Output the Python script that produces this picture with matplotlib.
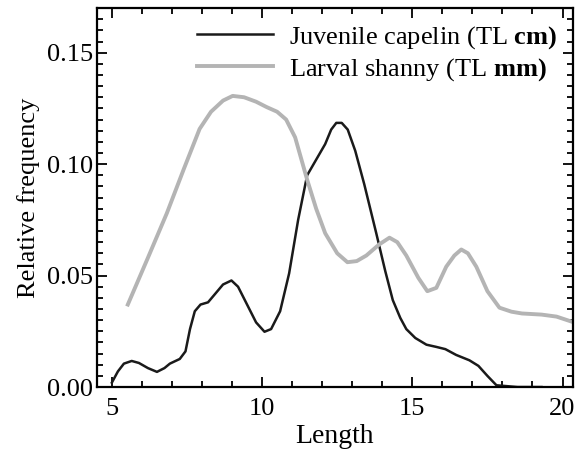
import numpy as np
import matplotlib
matplotlib.use("Agg")
import matplotlib.pyplot as plt
from matplotlib.ticker import MultipleLocator

plt.rcParams['font.family'] = ['Liberation Serif', 'DejaVu Serif']
plt.rcParams['mathtext.fontset'] = 'custom'
plt.rcParams['mathtext.rm'] = 'Liberation Serif'
plt.rcParams['mathtext.bf'] = 'Liberation Serif:bold'

# juvenile capelin (black line)
capelin_x = [5.0, 5.2, 5.4, 5.66, 5.9, 6.2, 6.5, 6.75, 6.93, 7.26, 7.45, 7.6,
             7.76, 7.95, 8.2, 8.45, 8.7, 8.98, 9.2, 9.5, 9.8, 10.08, 10.3,
             10.6, 10.9, 11.2, 11.5, 11.8, 12.1, 12.3, 12.47, 12.65, 12.85,
             13.1, 13.4, 13.8, 14.1, 14.35, 14.6, 14.8, 15.1, 15.47, 15.8,
             16.1, 16.46, 16.9, 17.2, 17.5, 17.8, 18.5, 19.3]
capelin_y = [0.002, 0.007, 0.0105, 0.0117, 0.0108, 0.0085, 0.0068, 0.0085,
             0.0105, 0.0126, 0.016, 0.026, 0.034, 0.037, 0.038, 0.042, 0.046,
             0.0478, 0.045, 0.037, 0.029, 0.0248, 0.026, 0.034, 0.051, 0.075,
             0.095, 0.102, 0.109, 0.1155, 0.1185, 0.1185, 0.1155, 0.106, 0.091,
             0.069, 0.052, 0.039, 0.031, 0.026, 0.022, 0.019, 0.018, 0.017,
             0.0144, 0.012, 0.0095, 0.005, 0.0008, 0.0, 0.0]

# larval shanny (gray line)
shanny_x = [5.53, 6.2, 6.83, 7.4, 7.92, 8.3, 8.7, 9.02, 9.4, 9.8, 10.15, 10.5,
            10.8, 11.1, 11.5, 11.8, 12.1, 12.5, 12.84, 13.15, 13.47, 13.9,
            14.24, 14.5, 14.8, 15.2, 15.5, 15.8, 16.13, 16.4, 16.63, 16.85,
            17.13, 17.5, 17.9, 18.3, 18.65, 19.3, 19.8, 20.38]
shanny_y = [0.037, 0.058, 0.078, 0.098, 0.1158, 0.1235, 0.1285, 0.1306, 0.130,
            0.128, 0.1256, 0.1235, 0.120, 0.112, 0.093, 0.080, 0.069, 0.060,
            0.056, 0.0565, 0.059, 0.064, 0.067, 0.065, 0.059, 0.049, 0.043,
            0.0445, 0.054, 0.059, 0.0617, 0.060, 0.054, 0.043, 0.0356, 0.0338,
            0.033, 0.0325, 0.0316, 0.029]

fig = plt.figure(figsize=(5.8, 4.49), dpi=100)
ax = fig.add_axes([0.167, 0.138, 0.821, 0.844])

ax.plot(capelin_x, capelin_y, color='#1a1a1a', lw=1.8,
        label=r'Juvenile capelin (TL $\mathbf{cm)}$')
ax.plot(shanny_x, shanny_y, color='#b4b4b4', lw=2.8,
        label=r'Larval shanny (TL $\mathbf{mm)}$')

ax.set_xlim(4.5, 20.35)
ax.set_ylim(0, 0.17)
ax.xaxis.set_major_locator(MultipleLocator(5))
ax.xaxis.set_minor_locator(MultipleLocator(1))
ax.yaxis.set_major_locator(MultipleLocator(0.05))
ax.yaxis.set_minor_locator(MultipleLocator(0.005))
ax.yaxis.set_major_formatter(plt.FormatStrFormatter('%.2f'))
ax.tick_params(which='both', direction='in', top=True, right=True,
               labelsize=19, width=1.3)
ax.tick_params(which='major', length=7)
ax.tick_params(which='minor', length=4)
ax.tick_params(axis='x', which='major', pad=8)
ax.tick_params(axis='y', which='major', pad=3)
for s in ax.spines.values():
    s.set_linewidth(1.6)

ax.set_xlabel('Length', fontsize=20, labelpad=3)
ax.set_ylabel('Relative frequency', fontsize=19, labelpad=5)

ax.legend(loc='upper right', frameon=False, fontsize=19, handlelength=2.9,
          borderaxespad=0.2, handletextpad=0.6, labelspacing=0.2)

fig.savefig('out.png', dpi=100)
